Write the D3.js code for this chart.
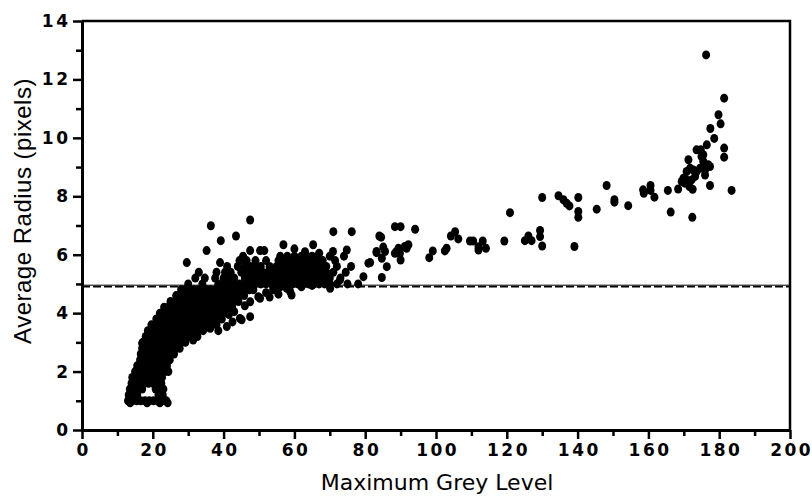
<!DOCTYPE html>
<html><head><meta charset="utf-8">
<script src="https://cdn.jsdelivr.net/npm/d3@7"></script>
<style>
html,body{margin:0;padding:0;background:#fff;}
svg{display:block;}
</style></head>
<body>
<script>
// ---- DATA (Maximum Grey Level, Average Radius in pixels) ----
const xTicks = [0,20,40,60,80,100,120,140,160,180,200];
const yTicks = [0,2,4,6,8,10,12,14];
const thresholdRadius = 4.93;

// dense rising cluster, listed row by row: [radius, [grey levels...]]
const clusterRows = [
  [0.93,[13.6,18.4,22,24.2]],
  [1.0,[13,14.2,15.4,16.6,17.8,19,20.2,21.4,22.6,23.8]],
  [1.2,[13.2,14.4,15.6,21.6,22.8]],
  [1.4,[13.5,14.7,15.9,17,20.8,22,23]],
  [1.6,[14,15.2,16.4,17.6,18.8,20,21.2,22.4]],
  [1.8,[14.2,15.4,16.6,17.8,19,20.2,21.4,22.6]],
  [2.0,[15,16.2,17.4,18.6,19.8,21,22.2,23.4,24.4]],
  [2.2,[15.6,16.8,18,19.2,20.4,21.6,22.8,24]],
  [2.4,[16.4,17.6,18.8,20,21.2,22.4,23.6,24.8]],
  [2.6,[16.6,17.8,19,20.2,21.4,22.6,23.8,25,26]],
  [2.8,[17,18.2,19.4,20.6,21.8,23,24.2,25.4,26.6,27.6]],
  [3.0,[17.2,18.4,19.6,20.8,22,23.2,24.4,25.6,26.8,28,29.2]],
  [3.2,[18,19.2,20.4,21.6,22.8,24,25.2,26.4,27.6,28.8,30,31.2,32.6]],
  [3.4,[18.6,19.8,21,22.2,23.4,24.6,25.8,27,28.2,29.4,30.6,31.8,33,34.2]],
  [3.6,[19.6,20.8,22,23.2,24.4,25.6,26.8,28,29.2,30.4,31.6,32.8,34,35.2,36.4,38]],
  [3.8,[21,22.2,23.4,24.6,25.8,27,28.2,29.4,30.6,31.8,33,34.2,35.4,36.6,37.8,39.5]],
  [4.0,[22,23.2,24.4,25.6,26.8,28,29.2,30.4,31.6,32.8,34,35.2,36.4,37.6,38.8,40]],
  [4.2,[23.2,24.4,25.6,26.8,28,29.2,30.4,31.6,32.8,34,35.2,36.4,37.6,38.8,40,41.2,42.4]],
  [4.4,[25,26.2,27.4,28.6,29.8,31,32.2,33.4,34.6,35.8,37,38.2,39.4,40.6,41.8,43,44.2]],
  [4.6,[26.6,27.8,29,30.2,31.4,32.6,33.8,35,36.2,37.4,38.6,39.8,41,42.2,43.4,44.6,45.8]],
  [4.8,[28,29.2,30.4,31.6,32.8,34,35.2,36.4,37.6,38.8,40,41.2,42.4,43.6,44.8,46,47.2,48.4]]
];

// plateau band just above the threshold line
const plateauRows = [
  [5.0,[30,34,38.5,40,41.5,43,44.5,46,47.5,49,50.5,52,53.5,55,56.5,58,59.5,61,62.5,64,65.5,67,68.5,70,72,75,78]],
  [5.2,[32,34.7,37.6,40,41.5,43,46,47.5,49,50.5,52,53.5,55,56.5,58,59.5,61,62.5,64,65.5,67,68.5,70,73]],
  [5.4,[33,38,40.4,42,45,46.5,48,49.5,51,52.5,54,55.5,57,58.5,60,61.5,63,64.5,66,67.5,69,71,74.5]],
  [5.6,[41,44,46,47.5,49,50.5,53,55,56.5,58,59.5,61,62.5,64,65.5,67,69,72,76]],
  [5.8,[44.5,46.5,49,52,55.5,57,58.5,60,61.5,63,64.5,66,68,71.5]],
  [5.95,[45.5,56,58,60,62,63.5,65,66.5,70,74]]
];

// scattered points around the cluster
const scatterPoints = [
  [31.4,3.08],[36.2,3.48],[38.5,3.4],[40.9,3.54],[42.5,3.7],[45.1,3.77],[47.5,3.88],[44.6,3.82],
  [41.5,3.95],[43,4.05],[46,4.25],[47.5,4.39],[49.8,4.56],[50.3,4.51],[17,2.97],
  [58.8,4.74],[57.8,4.85],[59.2,4.62],[52,4.7],[54,4.8],[56,4.9],[62,4.9],[65,4.95],[53,4.55],[55.5,4.65],
  [70.1,4.85],[72.9,5.14],[68.2,5.08],[79.5,5.25],
  [47.5,7.19],[36.4,6.99],[43.5,6.64],[39.2,6.48],[35.2,6.14],[29.6,5.73],[39,5.73],[56.9,6.34],
  [47.5,6.14],[50.3,6.14],[51.5,6.14],[65.3,6.34],[71,6.79],[76.2,6.79],[74.8,6.16],[70.9,6.11],
  [60,6.2],[63,6.1],[67,6.05]
];

// sparse tail at higher grey levels
const tailPoints = [
  [81.4,5.73],[83.2,6.11],[84.0,6.64],[84.5,6.6],[85.1,6.26],[85.6,6.11],[83.2,6.07],[84.7,5.88],
  [86.1,5.59],[84.7,5.22],[80.9,5.71],[88.4,6.96],[90.0,6.96],[94.1,6.87],[92.2,6.34],[91.2,6.28],
  [91.7,6.22],[89.4,6.22],[88.9,6.11],[89.8,6.05],[88.4,6.05],[90.0,5.82],[98.1,5.9],[99.1,6.13],
  [102.5,6.13],[103.0,6.22],[104.2,6.64],[105.4,6.79],[106.3,6.54],[109.6,6.47],[110.5,6.47],
  [113.2,6.47],[112.0,6.16],[112,6.27],[114.1,6.22],[119.3,6.47],[120.9,7.44],[125.1,6.48],
  [126.1,6.64],[127.0,6.48],[129.4,6.83],[129.4,6.62],[130.0,6.30],[139.1,6.28],
  [130.0,7.96],[134.6,8.02],[136.0,7.88],[136.9,7.76],[137.7,7.67],[140.2,7.96],[140.2,7.48],
  [140.2,7.28],[145.4,7.56],[148.2,8.37],[150.4,7.88],[150.4,7.8],[154.3,7.68],[158.5,8.22],
  [158.7,8.1],[160.6,8.37],[160.6,8.2],[161.7,7.97],[165.5,8.2],[166.3,7.46],[172.4,7.28],
  [168.4,8.25],[177.4,8.37],[183.5,8.2],
  [169.4,8.51],[170.3,8.45],[171.6,8.33],[172.5,8.24],[169.9,8.62],[170.8,8.56],[172.2,8.56],
  [173.2,8.68],[176,8.73],[170.8,8.85],[173.6,8.85],[171.8,8.96],[172.7,8.9],[174.6,8.96],
  [176,8.9],[177.4,9.02],[176.9,9.08],[175.5,9.19],[175,9.36],[171.3,9.25],[175.5,9.42],
  [173.6,9.59],[174.8,9.59],[176.5,9.76],[181.4,9.65],[181.4,9.34],[178.6,9.98],[177.5,10.32],
  [180.4,10.48],[179.8,10.79],[181.4,11.36],[176.3,12.84]
];

// ---- build point table ----
const points = [];
clusterRows.forEach(([r, xs]) => xs.forEach(g => points.push([g, r])));
plateauRows.forEach(([r, xs]) => xs.forEach(g => points.push([g, r])));
scatterPoints.forEach(p => points.push(p));
tailPoints.forEach(p => points.push(p));

// ---- chart ----
const W = 812, H = 497;
const m = {left: 82, top: 21, right: 22, bottom: 67};
const svg = d3.select("body").append("svg").attr("width", W).attr("height", H);

const x = d3.scaleLinear().domain([0, 200]).range([m.left, W - m.right]);
const y = d3.scaleLinear().domain([0, 14]).range([H - m.bottom, m.top]);

const tickFont = "DejaVu Sans, Verdana, sans-serif";

// frame (top and right)
svg.append("path")
  .attr("d", `M${x(0)},${y(14)}H${x(200)}V${y(0)}`)
  .attr("fill", "none").attr("stroke", "#000").attr("stroke-width", 2.5);

// minor ticks
svg.append("g").attr("transform", `translate(0,${y(0)})`)
  .call(d3.axisBottom(x).tickValues(d3.range(10, 200, 20)).tickSize(6).tickFormat(""))
  .call(g => g.select(".domain").remove())
  .call(g => g.selectAll("line").attr("stroke-width", 2.5));
svg.append("g").attr("transform", `translate(${x(0)},0)`)
  .call(d3.axisLeft(y).tickValues(d3.range(1, 14, 2)).tickSize(6).tickFormat(""))
  .call(g => g.select(".domain").remove())
  .call(g => g.selectAll("line").attr("stroke-width", 2.5));

// major axes
const xAxis = svg.append("g").attr("transform", `translate(0,${y(0)})`)
  .call(d3.axisBottom(x).tickValues(xTicks).tickSize(9).tickSizeOuter(0).tickPadding(5).tickFormat(d3.format("d")));
const yAxis = svg.append("g").attr("transform", `translate(${x(0)},0)`)
  .call(d3.axisLeft(y).tickValues(yTicks).tickSize(9).tickSizeOuter(0).tickPadding(5).tickFormat(d3.format("d")));

[xAxis, yAxis].forEach(a => {
  a.select(".domain").attr("stroke-width", 3);
  a.selectAll(".tick line").attr("stroke-width", 2.5);
  a.selectAll(".tick text")
    .attr("fill", "#000")
    .style("font-family", tickFont)
    .style("font-weight", "bold")
    .style("font-size", "17px")
    .style("letter-spacing", "2.5px");
});
xAxis.selectAll(".tick text").attr("dx", "1.2px");
yAxis.selectAll(".tick text").attr("dx", "2.5px");

// threshold line
svg.append("line")
  .attr("x1", x(0)).attr("x2", x(200))
  .attr("y1", y(thresholdRadius) - 0.8).attr("y2", y(thresholdRadius) - 0.8)
  .attr("stroke", "#000").attr("stroke-width", 1);
svg.append("line")
  .attr("x1", x(0)).attr("x2", x(200))
  .attr("y1", y(thresholdRadius) + 0.7).attr("y2", y(thresholdRadius) + 0.7)
  .attr("stroke", "#000").attr("stroke-width", 1.6)
  .attr("stroke-dasharray", "8,3");

// points
svg.append("g").selectAll("ellipse").data(points).join("ellipse")
  .attr("cx", d => x(d[0])).attr("cy", d => y(d[1]))
  .attr("rx", 4).attr("ry", 4.5).attr("fill", "#000");

// axis titles
svg.append("text")
  .attr("x", (x(0) + x(200)) / 2 + 1).attr("y", 490)
  .attr("text-anchor", "middle")
  .style("font-family", tickFont).style("font-size", "22px")
  .attr("fill", "#000")
  .text("Maximum Grey Level");

svg.append("text")
  .attr("transform", `translate(31,211) rotate(-90)`)
  .attr("text-anchor", "middle")
  .style("font-family", "Liberation Sans, Arial, sans-serif").style("font-size", "24px")
  .style("letter-spacing", "0.5px")
  .attr("fill", "#000")
  .text("Average Radius (pixels)");
</script>
</body></html>
